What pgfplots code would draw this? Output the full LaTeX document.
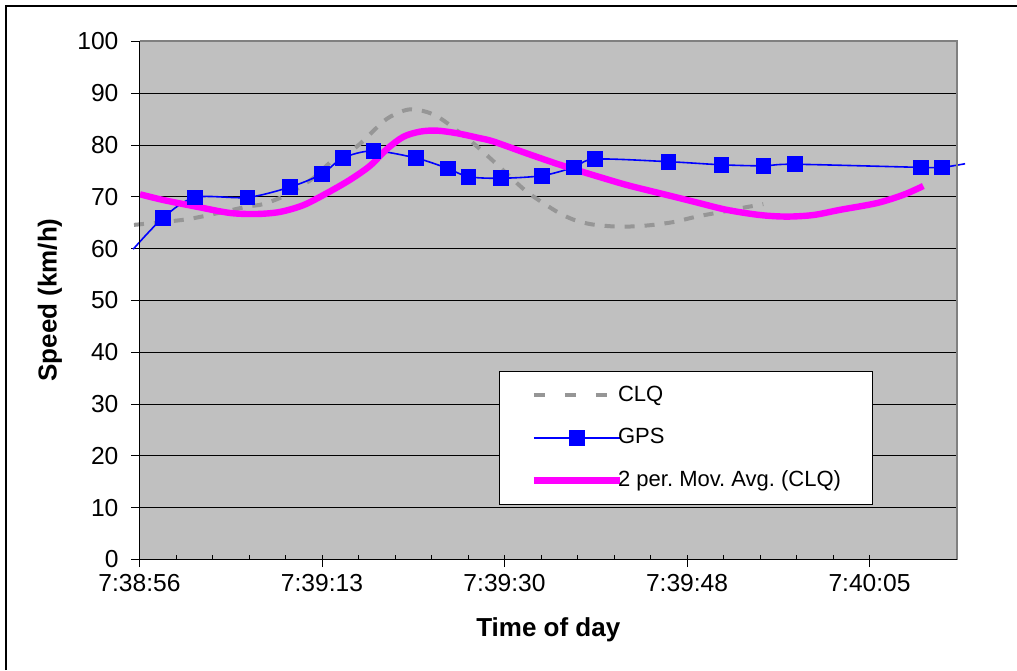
\documentclass[border=0pt]{standalone}
\usepackage{fontspec}
\setmainfont{Liberation Sans}
\usepackage{pgfplots}
\pgfplotsset{compat=1.18}
\definecolor{plotbg}{HTML}{C0C0C0}
\definecolor{clq}{HTML}{969696}
\definecolor{mag}{HTML}{FF00FF}
\definecolor{gpsblue}{HTML}{0000FF}
\definecolor{bordergray}{HTML}{808080}

\pgfplotstableread{
t v
-0.52 64.6
3.83 65.5
5.89 66.2
10.15 68.1
11.69 68.6
13.94 70.4
16.43 73.6
18.32 77.1
20.56 79.7
23.05 84.5
24.35 86.1
25.61 86.9
27.19 86.4
28.61 85.0
31.45 80.6
33.18 77.5
35.08 73.9
36.66 71.0
38.23 68.8
39.81 66.8
41.23 65.5
42.81 64.7
44.86 64.3
46.75 64.3
48.65 64.6
50.70 65.2
52.76 66.2
55.12 67.1
56.86 67.8
59.06 68.6
}\clqdata

\pgfplotstableread{
t v
-0.60 59.9
2.25 66.0
5.25 69.9
10.21 69.9
14.25 71.9
17.25 74.4
19.24 77.5
22.14 78.9
26.18 77.5
29.18 75.5
31.13 73.9
34.20 73.6
38.11 74.1
41.11 75.7
43.13 77.3
50.07 76.8
55.09 76.2
59.06 76.0
62.03 76.3
73.99 75.7
75.98 75.7
78.16 76.4
}\gpsline

\pgfplotstableread{
t v
2.25 66.0
5.25 69.9
10.21 69.9
14.25 71.9
17.25 74.4
19.24 77.5
22.14 78.9
26.18 77.5
29.18 75.5
31.13 73.9
34.20 73.6
38.11 74.1
41.11 75.7
43.13 77.3
50.07 76.8
55.09 76.2
59.06 76.0
62.03 76.3
73.99 75.7
75.98 75.7
}\gpsmarks

\pgfplotstableread{
t v
0.05 70.5
2.25 69.4
5.42 68.1
8.57 66.9
11.10 66.7
13.30 67.1
15.51 68.4
17.72 70.7
19.93 73.3
21.82 76.0
23.40 79.2
24.98 81.6
26.56 82.6
28.14 82.8
30.03 82.3
32.08 81.4
33.50 80.7
36.66 78.4
39.81 76.2
42.97 74.2
46.13 72.3
49.28 70.7
52.43 69.1
55.60 67.5
58.75 66.5
61.28 66.2
63.80 66.5
66.32 67.5
69.80 68.8
72.32 70.4
74.21 72.1
}\movavg

\begin{document}
\frenchspacing
\begin{tikzpicture}
\path[use as bounding box] (0,0) rectangle (508.5pt,335pt);
\draw[line width=1pt] (3pt,0) -- (3pt,332pt) -- (508.5pt,332pt);
\begin{axis}[
  at={(69.75pt,55.25pt)}, anchor=south west,
  scale only axis, width=408.75pt, height=259pt,
  xmin=0, xmax=77.4, ymin=0, ymax=100,
  clip=false,
  axis background/.style={fill=plotbg},
  axis line style={draw=none},
  tick pos=left,
  ytick={0,10,...,100},
  xtick={0,17.28,34.56,51.84,69.12},
  xticklabels={7:38:56,7:39:13,7:39:30,7:39:48,7:40:05},
  minor x tick num=4,
  ymajorgrids,
  major grid style={black, line width=0.5pt},
  xtick align=center,
  ytick align=outside,
  major tick length=6pt,
  minor tick length=2.5pt,
  tick style={black, line width=0.5pt},
  major x tick style={yshift=-0.75pt},
  minor x tick style={yshift=1.25pt},
  major y tick style={xshift=2pt},
  ticklabel style={font=\fontsize{12.3}{14}\selectfont},
  yticklabel style={xshift=-1pt},
  xticklabel style={yshift=-1pt},
  /pgf/number format/assume math mode=true,
  xlabel={Time of day},
  xlabel style={font=\bfseries\fontsize{13}{15}\selectfont, at={(axis description cs:0.5,-0.136)}, anchor=center},
  ylabel={Speed (km/h)},
  ylabel style={font=\bfseries\fontsize{13}{15}\selectfont, at={(axis description cs:-0.1095,0.501)}, anchor=center},
  legend style={at={(axis description cs:0.440,0.3645)}, anchor=north west,
    draw=black, line width=0.5pt, fill=white,
    font=\fontsize{11}{13}\selectfont,
    inner xsep=15.5pt, inner ysep=7.5pt,
    nodes={inner sep=0pt}, row sep=12pt,
    cells={anchor=west}},
  legend image code/.code={\draw[mark repeat=2,mark phase=2,#1] plot coordinates {(0pt,0pt) (21.5pt,0pt) (43pt,0pt)};},
]
\addplot[clq, line width=2pt, dash pattern=on 5pt off 5pt, smooth, forget plot] table[x=t,y=v] {\clqdata};
\addplot[gpsblue, line width=0.8pt, smooth, forget plot] table[x=t,y=v] {\gpsline};
\addplot[only marks, mark=square*, mark size=3.7pt, mark options={fill=gpsblue, draw=gpsblue}, forget plot] table[x=t,y=v] {\gpsmarks};
\addplot[mag, line width=3.2pt, smooth, forget plot] table[x=t,y=v] {\movavg};
\draw[bordergray, line width=1pt] (rel axis cs:0,1) -- (rel axis cs:1,1) -- (rel axis cs:1,0);
\draw[black, line width=0.8pt] (rel axis cs:0,1) -- (rel axis cs:0,0) -- (rel axis cs:1,0);
\addlegendimage{clq, line width=2pt, dash pattern=on 5.5pt off 10pt}
\addlegendentry{\hspace*{-2.5pt}CLQ}
\addlegendimage{gpsblue, line width=0.8pt, mark=square*, mark size=3.7pt, mark options={fill=gpsblue, draw=gpsblue, solid}}
\addlegendentry{\hspace*{-2.5pt}GPS}
\addlegendimage{mag, line width=3.2pt}
\addlegendentry{\hspace*{-2.5pt}2 per. Mov. Avg. (CLQ)}
\end{axis}
\end{tikzpicture}
\end{document}
